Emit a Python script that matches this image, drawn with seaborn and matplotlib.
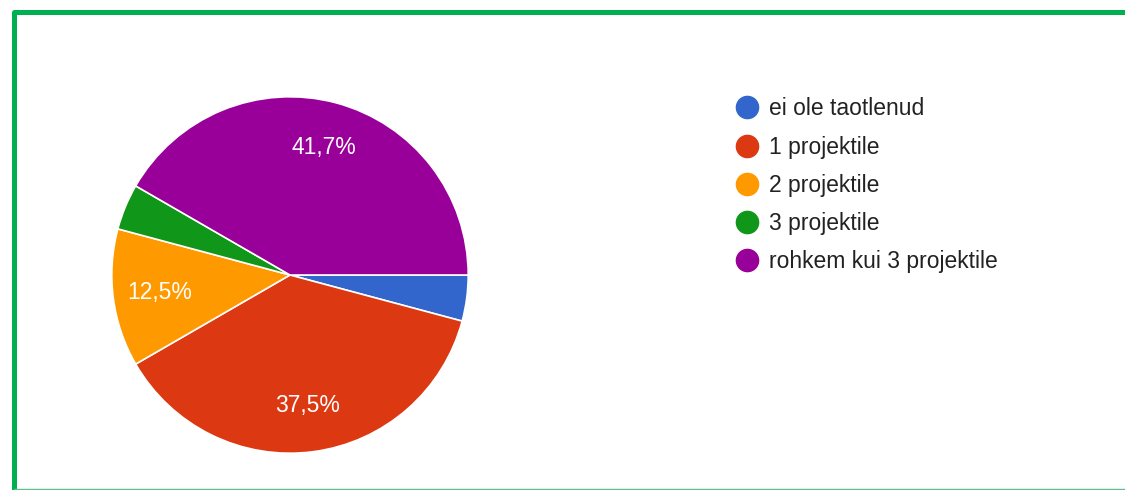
import numpy as np
import matplotlib
matplotlib.use("Agg")
import matplotlib.pyplot as plt
import seaborn as sns
from matplotlib.lines import Line2D
from matplotlib.patches import Rectangle

# andmed
categories = ["ei ole taotlenud", "1 projektile", "2 projektile", "3 projektile",
              "rohkem kui 3 projektile"]
counts = [1, 9, 3, 1, 10]
colors = ["#3366cc", "#dc3912", "#ff9900", "#109618", "#990099"]

sns.set_theme(style="white")
plt.rcParams["font.family"] = ["Liberation Sans", "DejaVu Sans"]
palette = sns.color_palette(colors)

W, H = 1125, 490
fig = plt.figure(figsize=(W / 100, H / 100), dpi=100)

# pie axes: center (290, 275), radius 180 px
cx, cy, r = 290, 275, 180
ax = fig.add_axes([(cx - r) / W, (H - cy - r) / H, 2 * r / W, 2 * r / H])


def fmt(p):
    # only label the bigger slices, estonian decimal comma
    if p < 5:
        return ""
    return f"{p:.1f}%".replace(".", ",")


wedges, texts, autotexts = ax.pie(
    counts, colors=palette, startangle=0, counterclock=False,
    autopct=fmt, pctdistance=0.74, radius=1,
    wedgeprops=dict(edgecolor="white", linewidth=1.2),
    textprops=dict(color="white", fontsize=16.5),
)
ax.set_xlim(-1.01, 1.01)
ax.set_ylim(-1.01, 1.01)
ax.set_aspect("equal")
ax.axis("off")

# legend
handles = [Line2D([0], [0], marker="o", linestyle="", markersize=16,
                  markerfacecolor=c, markeredgecolor=c) for c in colors]
fig.legend(handles, categories, loc="upper left",
           bbox_to_anchor=(724 / W, 1 - 86 / H), frameon=False,
           fontsize=16.5, labelcolor="#222222", handlelength=1.0,
           handletextpad=0.45, labelspacing=0.665, borderpad=0)

# green frame around the card
green = "#00b050"
fig.add_artist(Rectangle((14 / W, -0.2), 1.2, (H - 12.5) / H + 0.2,
                         transform=fig.transFigure, fill=False,
                         edgecolor=green, linewidth=3.6, joinstyle="round"))
fig.add_artist(Line2D([14 / W, 1], [1 / H, 1 / H], transform=fig.transFigure,
                      color="#5cc08a", linewidth=1))

fig.savefig("out.png", dpi=100, facecolor="white")
